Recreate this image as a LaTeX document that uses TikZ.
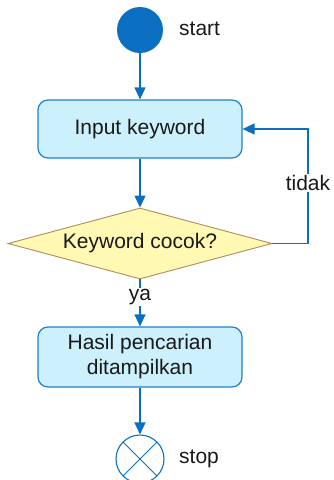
\documentclass[tikz,border=0pt]{standalone}
\usepackage{fontspec}
\setmainfont{Liberation Sans}
\usetikzlibrary{shapes.geometric,arrows.meta}

\definecolor{flowblue}{HTML}{0B6FC1}
\definecolor{boxfill}{HTML}{CCF1FD}
\definecolor{boxline}{HTML}{1E80D0}
\definecolor{decfill}{HTML}{FFF9B3}
\definecolor{decline}{HTML}{B58A5A}

\tikzset{
  lbl/.style={font=\fontsize{21}{25}\selectfont, text=black!90, inner sep=1pt},
  actbox/.style={draw=boxline, fill=boxfill, line width=1.2pt, rounded corners=10pt,
    minimum width=204pt, inner sep=0pt, align=center,
    font=\fontsize{21}{25}\selectfont, text=black!90},
  decbox/.style={diamond, draw=decline, fill=decfill, line width=0.9pt,
    minimum width=264pt, minimum height=71pt, inner sep=0pt, aspect=3.7,
    font=\fontsize{21}{25}\selectfont, text=black!90},
  flow/.style={draw=flowblue, line width=1.2pt,
    -{Triangle[length=12pt,width=11pt]}, color=flowblue},
}

\begin{document}
\begin{tikzpicture}[x=1pt,y=-1pt]
  \useasboundingbox (0,0) rectangle (333,480);

  % start and stop markers
  \node[circle, fill=flowblue, minimum size=46pt, inner sep=0pt] (start) at (140,30) {};
  \node[lbl, anchor=west] (starttxt) at (178,29) {start};

  \node[circle, draw=flowblue, fill=white, line width=1.1pt, minimum size=48pt, inner sep=0pt,
        path picture={
          \draw[flowblue, line width=1pt]
            (path picture bounding box.north west) -- (path picture bounding box.south east)
            (path picture bounding box.north east) -- (path picture bounding box.south west);
        }] (stop) at (140,459) {};
  \node[lbl, anchor=west] (stoptxt) at (178,459) {stop};

  % activities and decision
  \node[actbox, minimum height=58pt] (input) at (140,129) {Input keyword};
  \node[decbox] (dec) at (140,243.5) {Keyword cocok?};
  \node[actbox, minimum height=60pt] (hasil) at (140,357) {Hasil pencarian\\ditampilkan};

  % connectors
  \draw[flow] (start) -- (input);
  \draw[flow] (input) -- (dec);
  \draw[flow] (dec.south) -- (hasil.north);
  \draw[flow] (hasil) -- (stop);

  \coordinate (loopturn) at (308,129);
  \draw[flow] (dec.east) -| (loopturn) -- (input.east);

  % branch labels
  \node[lbl, fill=white] (tidak) at (308,183) {tidak};
  \node[lbl, fill=white] (ya) at (140,297) {ya};
\end{tikzpicture}
\end{document}
